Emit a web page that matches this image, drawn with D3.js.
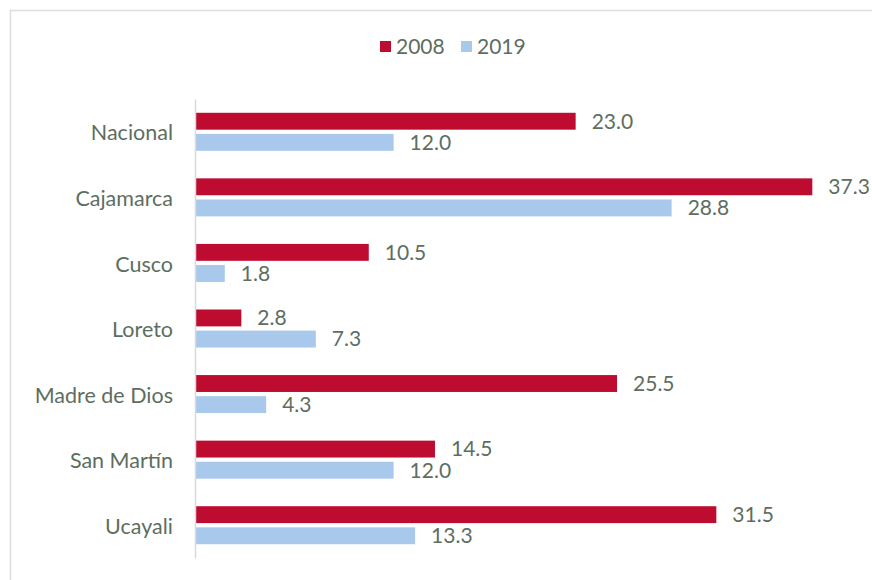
<!DOCTYPE html>
<html>
<head>
<meta charset="utf-8">
<script src="https://cdn.jsdelivr.net/npm/d3@7"></script>
<style>
  body { margin: 0; background: #fff; }
  svg text { font-family: Lato, "Open Sans", sans-serif; fill: #5d6e5f; }
</style>
</head>
<body>
<div class="svg-container"></div>
<script>
// data
var regions = ["Nacional", "Cajamarca", "Cusco", "Loreto", "Madre de Dios", "San Martín ", "Ucayali"];
var years = ["2008", "2019"];
var values2008 = [23.0, 37.3, 10.5, 2.8, 25.5, 14.5, 31.5];
var values2019 = [12.0, 28.8, 1.8, 7.3, 4.3, 12.0, 13.3];
var colors = ["#bd0c30", "#a8c8ec"];

var width = 872, height = 580;

var svg = d3.select(".svg-container").append("svg")
  .attr("width", width)
  .attr("height", height);

// frame
svg.append("path")
  .attr("d", "M10.5," + height + " V10.5 H" + width)
  .attr("fill", "none")
  .attr("stroke", "#dcdedb")
  .attr("stroke-width", 1.5);

// scales
var x = d3.scaleLinear().domain([0, 40]).range([195, 857]);
var y = d3.scaleBand().domain(regions).range([99, 558]);
var sub = d3.scaleBand().domain(years).range([y.bandwidth()/2 - 19, y.bandwidth()/2 + 19]).paddingInner(0.2);

var rows = regions.map(function(r, i) {
  return { region: r, vals: [values2008[i], values2019[i]] };
});

var groups = svg.selectAll(".grp")
  .data(rows)
  .enter().append("g")
  .attr("class", "grp")
  .attr("transform", function(d) { return "translate(0," + y(d.region) + ")"; });

groups.selectAll("rect")
  .data(function(d) { return d.vals.map(function(v, j) { return { year: years[j], v: v, j: j }; }); })
  .enter().append("rect")
  .attr("x", x(0))
  .attr("y", function(d) { return sub(d.year); })
  .attr("width", function(d) { return x(d.v) - x(0); })
  .attr("height", sub.bandwidth())
  .attr("fill", function(d) { return colors[d.j]; });

groups.selectAll(".val")
  .data(function(d) { return d.vals.map(function(v, j) { return { year: years[j], v: v }; }); })
  .enter().append("text")
  .attr("class", "val")
  .attr("x", function(d) { return x(d.v) + 16; })
  .attr("y", function(d) { return sub(d.year) + sub.bandwidth()/2; })
  .attr("dy", "0.35em")
  .style("font-size", "21px")
  .text(function(d) { return d.v.toFixed(1); });

// y axis
var yAxis = svg.append("g")
  .attr("transform", "translate(" + x(0) + ",0)")
  .call(d3.axisLeft(y).tickSize(0).tickPadding(22));
yAxis.select(".domain").attr("stroke", "#d9d9d9").attr("stroke-width", 1.5);
yAxis.selectAll("text")
  .style("font-size", "21.5px")
  .style("font-family", "Lato, 'Open Sans', sans-serif")
  .attr("fill", "#5d6e5f")
  .attr("dy", "0.4em");

// legend
var legend = svg.append("g").attr("transform", "translate(380,47)");
var legX = [0, 81];
years.forEach(function(yr, i) {
  legend.append("rect")
    .attr("x", legX[i]).attr("y", -6)
    .attr("width", 11).attr("height", 11)
    .attr("fill", colors[i]);
  legend.append("text")
    .attr("x", legX[i] + 16).attr("y", 0)
    .attr("dy", "0.35em")
    .style("font-size", "21px")
    .text(yr);
});
</script>
</body>
</html>
